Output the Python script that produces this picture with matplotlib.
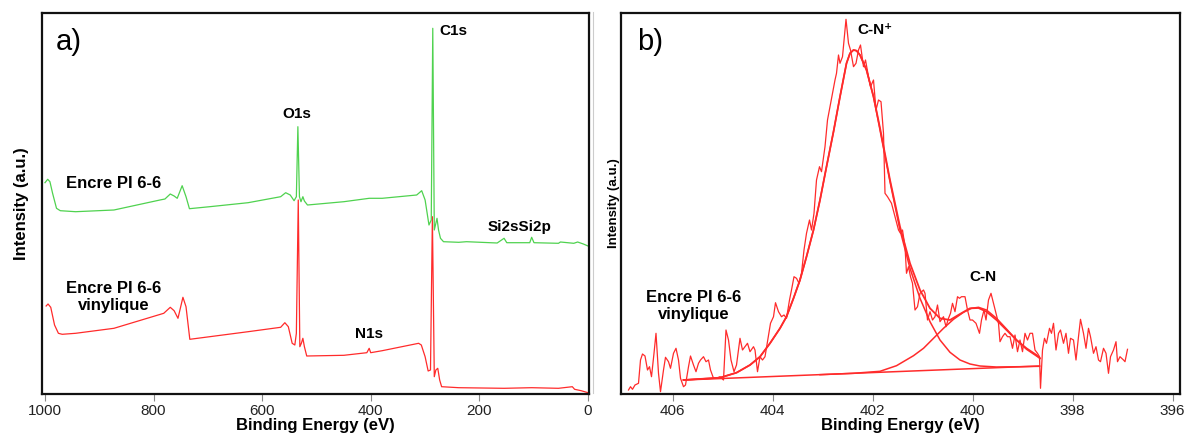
import matplotlib
matplotlib.use("Agg")
import matplotlib.pyplot as plt
from matplotlib.lines import Line2D

plt.rcParams['font.family'] = ['Liberation Sans', 'DejaVu Sans']

# ---- panel a : survey spectra (binding energy eV, intensity a.u.) ----
green_ev = [1000, 998.6, 995, 990.9, 986, 978.8, 971.8, 943.6, 873, 788.3, 779.1, 769.3,
            762.2, 756.5, 747.4, 740.3, 734, 696.6, 626, 566, 556.8, 548.4, 541.3, 537.1,
            534.3, 531.4, 528.6, 525.1, 522.3, 516.6, 449.6, 403, 379, 315.5, 306.3, 300,
            292.9, 288.7, 285.9, 283.1, 280.2, 278.1, 275.3, 271.7, 266.1, 238, 223.8,
            167.3, 154.6, 149.6, 107.3, 103.8, 99.5, 54.4, 50.8, 26.2, 19.1, 8.6, 0]
green_i = [211.3, 212.3, 214.7, 212.3, 200.7, 185.7, 183.3, 182.3, 184, 194, 195, 200,
           198, 195.7, 208.3, 197.3, 185.3, 187.3, 191.3, 197.3, 201.3, 199, 193.3, 197.3,
           267.3, 197.3, 192.3, 197.3, 193, 189, 192.3, 195.7, 195.7, 199, 203.3, 194,
           169, 174, 365.7, 164, 170.7, 175.7, 164, 155.7, 152.3, 151.7, 152.3,
           151, 155.7, 151.3, 151.3, 156.7, 151.3, 150.7, 152, 150.7, 152, 150, 148]

red_ev = [997.9, 994.4, 989.4, 982.4, 975.3, 968.3, 943.6, 873, 781.3, 769.3, 762.2, 755.1,
          746, 740.3, 733.3, 696.6, 626, 566, 558.3, 551.9, 544.8, 539.9, 537.1, 533.6,
          530.7, 527.9, 525.1, 522.3, 518, 449.6, 407.3, 403, 400.2, 379, 312, 307, 300,
          294.4, 290.1, 286.6, 283.1, 280.2, 276.7, 273.2, 269.6, 238, 154.6, 103.8, 54.4,
          28.9, 24.7, 12.7, 0]
red_i = [88, 90, 86.7, 69, 60.7, 59.7, 60.7, 65.7, 80.7, 86.7, 83.3, 75.7,
         96.7, 87.3, 54.7, 57.3, 62.3, 66.7, 71.3, 67.3, 50.7, 49, 60.7, 194,
         47.3, 50.7, 55.7, 47.3, 38, 38.7, 41.3, 45.7, 41.3, 43.3, 50.7, 49, 37.3,
         23, 24, 177.3, 17.3, 24, 25.7, 14, 7.3, 6.3, 5.7, 6.3, 5.7,
         7.3, 4.7, 3.3, 1.3]

# ---- panel b : N1s high resolution ----
raw_ev = [406.88, 406.84, 406.80, 406.75, 406.68, 406.64, 406.60, 406.55, 406.50, 406.46,
          406.42, 406.37, 406.33, 406.28, 406.24, 406.18, 406.14, 406.08, 406.04, 405.98,
          405.93, 405.88, 405.84, 405.78, 405.74, 405.68, 405.64, 405.58, 405.53, 405.48,
          405.44, 405.38, 405.33, 405.28, 405.24, 405.18, 405.12, 405.05, 404.98, 404.93,
          404.88, 404.83, 404.77, 404.72, 404.65, 404.60, 404.55, 404.50, 404.45, 404.38,
          404.35, 404.30, 404.25, 404.20, 404.15, 404.10, 404.04, 403.98, 403.94, 403.88,
          403.82, 403.77, 403.72, 403.66, 403.62, 403.57, 403.52, 403.47, 403.42, 403.37,
          403.32, 403.26, 403.22, 403.17, 403.12, 403.06, 403.02, 402.95, 402.90, 402.85,
          402.80, 402.75, 402.72, 402.68, 402.65, 402.60, 402.53, 402.48, 402.44, 402.38,
          402.33, 402.28, 402.24, 402.18, 402.14, 402.08, 402.04, 401.98, 401.93, 401.88,
          401.83, 401.78, 401.75, 401.70, 401.62, 401.55, 401.48, 401.44, 401.40, 401.35,
          401.32, 401.28, 401.24, 401.20, 401.15, 401.10, 401.05, 400.98, 400.95, 400.90,
          400.85, 400.80, 400.75, 400.70, 400.65, 400.58, 400.53, 400.48, 400.44, 400.40,
          400.35, 400.30, 400.26, 400.22, 400.15, 400.10, 400.05, 400.00, 399.93, 399.86,
          399.82, 399.77, 399.73, 399.68, 399.63, 399.58, 399.53, 399.48, 399.45, 399.40,
          399.35, 399.30, 399.25, 399.20, 399.15, 399.10, 399.05, 399.00, 398.95, 398.90,
          398.85, 398.80, 398.75, 398.70, 398.66, 398.64, 398.60, 398.56, 398.52, 398.46,
          398.42, 398.38, 398.33, 398.28, 398.24, 398.18, 398.13, 398.08, 398.04, 397.98,
          397.93, 397.88, 397.84, 397.78, 397.73, 397.68, 397.64, 397.58, 397.53, 397.48,
          397.44, 397.38, 397.33, 397.28, 397.24, 397.18, 397.13, 397.10, 397.05, 396.98,
          396.95, 396.90]
raw_i = [4, 7.3, 4.7, 9, 10.7, 34, 40, 38, 24, 27.3,
         17.3, 40.7, 60.7, 20.7, 2.3, 24, 36.7, 32.3, 25.7, 40.7,
         45.7, 34, 15.7, 7.3, 9, 27.3, 38, 29, 22.3, 30.7,
         34, 37.3, 32.3, 34, 24, 15.7, 15.7, 17.3, 14, 64,
         54, 34, 22.3, 29, 55.7, 44, 47.3, 50.7, 42.3, 47.3,
         44, 22.3, 37.3, 34, 37.3, 52.3, 70.7, 77.3, 91.3, 82.3,
         77.3, 79, 75.7, 94, 104, 117.3, 115.7, 110.7, 120.7, 144,
         160.7, 174, 164, 180.7, 214, 227.3, 222.3, 247.3, 274, 287.3,
         300.7, 314, 320.7, 339, 330.7, 337.3, 374.7, 350.7, 344, 327.3,
         330.7, 344, 349, 327.3, 334, 317.3, 307.3, 314, 284, 294,
         292.3, 260.7, 200.7, 197.3, 190.7, 177.3, 164, 160.7, 164, 147.3,
         120.7, 127.3, 117.3, 110.7, 84, 87.3, 100.7, 104, 100.7, 74,
         82.3, 74, 77.3, 89, 72.3, 77.3, 67.3, 75.7, 80.7, 90.7,
         82.3, 97.3, 95.7, 97.3, 97.3, 84, 74, 74, 70.7, 60.7,
         74, 84, 74, 94, 100.7, 90.7, 80.7, 70.7, 52.3, 57.3,
         60.7, 57.3, 57.3, 45.7, 59, 42.3, 54, 42.3, 60.7, 54,
         60.7, 60.7, 44, 40.7, 37.3, 5.7, 44, 55.7, 50.7, 65.7,
         60.7, 70.7, 44, 60.7, 64, 50.7, 60.7, 40.7, 55.7, 54,
         34, 57.3, 74.7, 60.7, 45.7, 65.7, 57.3, 40.7, 47.3, 34,
         32.3, 45.7, 40.7, 20.7, 37.3, 44, 52.3, 32.3, 37.3, 34,
         32.3, 44.7]

# fitted envelope
env_ev = [405.78, 405.05, 404.72, 404.45, 404.25, 404.05, 403.85, 403.72, 403.58, 403.45,
          403.32, 403.18, 403.05, 402.92, 402.78, 402.65, 402.52, 402.45, 402.38, 402.32,
          402.25, 402.12, 401.98, 401.85, 401.65, 401.45, 401.25, 401.05, 400.85, 400.65,
          400.45, 400.25, 400.05, 399.88, 399.72, 399.52, 399.32, 399.12, 398.92, 398.72,
          398.65]
env_i = [14, 16.3, 21.3, 29, 37.3, 50.7, 65.7, 77.3, 95.7, 114,
         137.3, 164, 194, 227.3, 262.3, 297.3, 330.7, 340.7, 344, 343.3,
         339, 324, 297.3, 266, 214, 167.3, 130.7, 104, 85.7, 75.7,
         74, 80, 85.7, 86, 82.3, 74, 64, 54, 45.7, 39,
         35.7]

# C-N+ component (left flank coincides with the envelope)
cnp_ev = env_ev[:23] + [401.85, 401.65, 401.45, 401.25, 401.05, 400.85, 400.65, 400.45,
                        400.25, 400.05, 399.85, 399.52, 399.05, 398.66]
cnp_i = env_i[:23] + [264, 212.3, 164, 125.7, 95.7, 72.3, 54, 41.7,
                      34, 30, 28, 27, 27.3, 27.7]

# C-N component
cn_ev = [403.05, 402.38, 401.85, 401.52, 401.18, 400.98, 400.78, 400.58, 400.38, 400.18,
         400.02, 399.88, 399.72, 399.52, 399.32, 399.12, 398.92, 398.72, 398.65]
cn_i = [19.3, 20.7, 22.7, 28.3, 38.3, 45.7, 55.7, 65.7, 74.7, 81.7,
        85.7, 86.7, 84, 75.7, 65, 54, 44.7, 38, 35.7]

# background
bg_ev = [405.78, 398.66]
bg_i = [14, 28]

survey_ticks = [1000, 800, 600, 400, 200, 0]
hr_ticks = [406, 404, 402, 400, 398, 396]

GREEN = '#4fd24f'
RED = '#ff2b2b'

fig = plt.figure(figsize=(11.86, 4.36), dpi=100)
ax1 = fig.add_axes([42 / 1186, 42 / 436, 547 / 1186, 381 / 436])
ax2 = fig.add_axes([621 / 1186, 42 / 436, 559 / 1186, 381 / 436])

for ax in (ax1, ax2):
    for s in ax.spines.values():
        s.set_linewidth(1.6)
        s.set_color('#111111')
    ax.set_yticks([])
    ax.tick_params(axis='x', direction='out', length=5, width=0.8, color='#888888',
                   labelsize=11, pad=2, labelcolor='#222222')
    ax.set_ylim(0, 381)

# panel a
ax1.plot(red_ev, red_i, color=RED, lw=0.9)
ax1.plot(green_ev, green_i, color=GREEN, lw=0.9)
ax1.set_xlim(1005.5, -1.8)
ax1.set_xticks(survey_ticks)
ax1.set_xlabel('Binding Energy (eV)', fontsize=12, fontweight='bold', labelpad=0)
ax1.set_ylabel('Intensity (a.u.)', fontsize=12, fontweight='bold', labelpad=9.5)

ax1.text(979.7, 352, 'a)', fontsize=21, ha='left', va='center')
ax1.text(535.9, 280, 'O1s', fontsize=11, fontweight='bold', ha='center', va='center')
ax1.text(274.4, 363, 'C1s', fontsize=11, fontweight='bold', ha='left', va='center')
ax1.text(125.2, 167, 'Si2sSi2p', fontsize=11, fontweight='bold', ha='center', va='center')
ax1.text(873, 211, 'Encre PI 6-6', fontsize=12, fontweight='bold', ha='center', va='center')
ax1.text(873, 97, 'Encre PI 6-6\nvinylique', fontsize=12, fontweight='bold', ha='center',
         va='center', linespacing=1.15)
ax1.text(403.3, 60, 'N1s', fontsize=11, fontweight='bold', ha='center', va='center')

# panel b
ax2.plot(raw_ev, raw_i, color=RED, lw=0.9)
ax2.plot(bg_ev, bg_i, color=RED, lw=1.1)
ax2.plot(cnp_ev, cnp_i, color=RED, lw=1.1)
ax2.plot(cn_ev, cn_i, color=RED, lw=1.1)
ax2.plot(env_ev, env_i, color=RED, lw=1.3)
ax2.set_xlim(407.03, 395.85)
ax2.set_xticks(hr_ticks)
ax2.set_xlabel('Binding Energy (eV)', fontsize=12, fontweight='bold', labelpad=0)
ax2.set_ylabel('Intensity (a.u.)', fontsize=9.5, fontweight='bold', labelpad=0.5)

ax2.text(406.71, 352, 'b)', fontsize=21, ha='left', va='center')
ax2.text(402.31, 364, 'C-N\u207a', fontsize=11, fontweight='bold', ha='left', va='center')
ax2.text(399.8, 117, 'C-N', fontsize=11, fontweight='bold', ha='center', va='center')
ax2.text(405.57, 88, 'Encre PI 6-6\nvinylique', fontsize=12, fontweight='bold', ha='center',
         va='center', linespacing=1.15)

# faint frame edge left of panel b (as in the source figure)
fig.add_artist(Line2D([592.5 / 1186, 592.5 / 1186], [43 / 436, 424 / 436],
                      color='#cccccc', lw=0.8))

fig.savefig('out.png', dpi=100)
